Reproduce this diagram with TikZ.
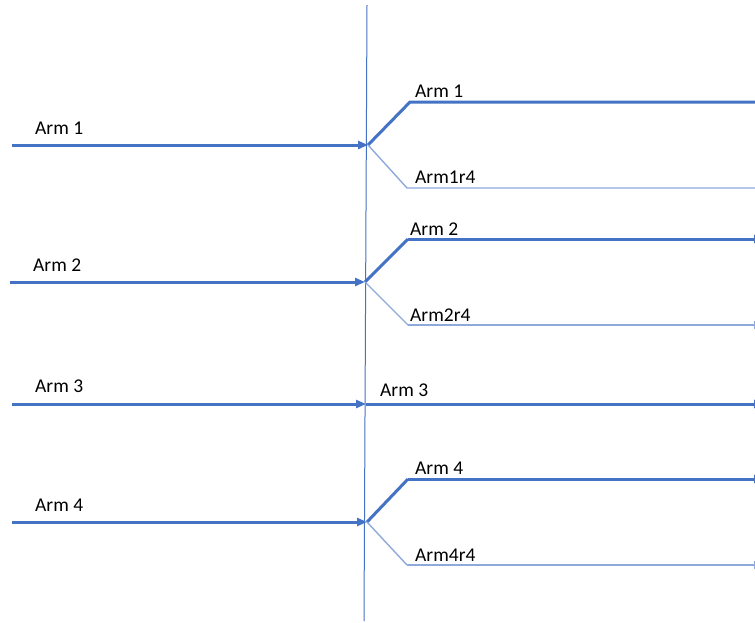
\documentclass[tikz,border=0pt]{standalone}
\usepackage{fontspec}
\setmainfont{Carlito}
\usetikzlibrary{arrows.meta}
\definecolor{armblue}{HTML}{4472C4}
\definecolor{armlight}{HTML}{8EA9DB}
\tikzset{
  thickarm/.style={draw=armblue, line width=3pt},
  thinarm/.style={draw=armlight, line width=1.4pt},
  tip/.style={-{Triangle[length=10pt,width=8pt]}},
  lbl/.style={anchor=base west, inner sep=0pt, font=\fontsize{19.5}{22}\selectfont, text=black}
}
\begin{document}
\begin{tikzpicture}[x=1pt,y=-1pt]
\useasboundingbox (0,0) rectangle (755,622);
\clip (0,0) rectangle (755,622);
% vertical divider
\coordinate (vt) at (367,5);
\coordinate (vb) at (364,621);
\draw[draw=armblue, line width=1pt] (vt) -- (vb);
% ---- Arm 1
\coordinate (L1) at (12,145);
\coordinate (J1) at (368,145);
\coordinate (U1) at (410,102);
\coordinate (UE1) at (760,102);
\coordinate (D1) at (407,188);
\coordinate (DE1) at (760,188);
\draw[thickarm, tip] (L1) -- (J1);
\draw[thickarm] (J1) -- (U1) -- (UE1);
\draw[thinarm] (J1) -- (D1) -- (DE1);
\node[lbl] (a1l) at (35,134) {Arm 1};
\node[lbl] (a1u) at (415,97) {Arm 1};
\node[lbl] (a1d) at (415,183) {Arm1r4};
% ---- Arm 2
\coordinate (L2) at (10,282);
\coordinate (J2) at (365,282);
\coordinate (U2) at (408,239);
\coordinate (UE2) at (764,239);
\coordinate (D2) at (408,325);
\coordinate (DE2) at (764,325);
\draw[thickarm, tip] (L2) -- (J2);
\draw[thickarm] (J2) -- (U2);
\draw[thickarm, tip] (U2) -- (UE2);
\draw[thinarm] (J2) -- (D2);
\draw[thinarm, tip] (D2) -- (DE2);
\node[lbl] (a2l) at (33,271) {Arm 2};
\node[lbl] (a2u) at (410,235) {Arm 2};
\node[lbl] (a2d) at (410,321) {Arm2r4};
% ---- Arm 3
\coordinate (L3) at (12,404);
\coordinate (J3) at (366,404);
\coordinate (E3) at (764,404);
\draw[thickarm, tip] (L3) -- (J3);
\draw[thickarm, tip] (J3) -- (E3);
\node[lbl] (a3l) at (35,392) {Arm 3};
\node[lbl] (a3r) at (380,396) {Arm 3};
% ---- Arm 4
\coordinate (L4) at (12,522);
\coordinate (J4) at (367,522);
\coordinate (U4) at (408,479);
\coordinate (UE4) at (764,479);
\coordinate (D4) at (407,565);
\coordinate (DE4) at (764,565);
\draw[thickarm, tip] (L4) -- (J4);
\draw[thickarm] (J4) -- (U4);
\draw[thickarm, tip] (U4) -- (UE4);
\draw[thinarm] (J4) -- (D4);
\draw[thinarm, tip] (D4) -- (DE4);
\node[lbl] (a4l) at (35,511) {Arm 4};
\node[lbl] (a4u) at (415,474) {Arm 4};
\node[lbl] (a4d) at (415,561) {Arm4r4};
\end{tikzpicture}
\end{document}
